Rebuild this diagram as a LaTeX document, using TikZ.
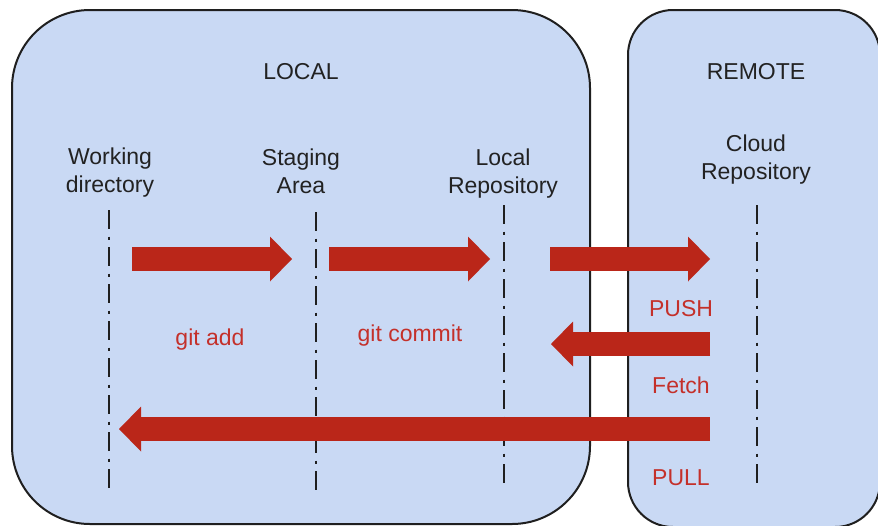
\documentclass[tikz,border=0pt]{standalone}
\usepackage{fontspec}
\setmainfont{Liberation Sans}
\usetikzlibrary{arrows.meta}
\definecolor{panelblue}{HTML}{C9D9F4}
\definecolor{outline}{HTML}{1F1F1F}
\definecolor{flowred}{HTML}{BA2619}
\definecolor{labelred}{HTML}{C4302A}
\definecolor{inktext}{HTML}{222222}

\begin{document}
\begin{tikzpicture}[x=1pt,y=-1pt,
  panel/.style={fill=panelblue, draw=outline, line width=2pt},
  title/.style={font=\fontsize{23}{28}\selectfont, text=inktext, align=center, inner sep=0pt},
  flowlabel/.style={font=\fontsize{23}{28}\selectfont, text=labelred, inner sep=0pt},
  lifeline/.style={draw=outline, line width=2.2pt, dash pattern=on 19pt off 7.5pt on 3pt off 7.5pt},
  flow/.style={draw=flowred, line width=24pt,
    -{Triangle[length=22pt,width=45pt,line width=0pt]}}]
\useasboundingbox (0,0) rectangle (878,525);

% the two areas
\draw[panel, rounded corners=78pt] (12,10) rectangle (590,524);
\draw[panel, rounded corners=45pt] (628,10) rectangle (880,527);

% headings
\node[title] (local)  at (301,72) {LOCAL};
\node[title] (remote) at (756,72) {REMOTE};
\node[title] (wd)    at (110,173) {Working\\directory};
\node[title] (stage) at (301,171) {Staging\\Area};
\node[title] (lrepo) at (503,174) {Local\\Repository};
\node[title] (crepo) at (756,160) {Cloud\\Repository};

% lifelines
\coordinate (wdtop) at (109,210); \coordinate (wdbot) at (109,488);
\coordinate (sttop) at (316,212); \coordinate (stbot) at (316,490);
\coordinate (lrtop) at (504,205); \coordinate (lrbot) at (504,483);
\coordinate (crtop) at (757,205); \coordinate (crbot) at (757,483);
\draw[lifeline] (wdtop) -- (wdbot);
\draw[lifeline] (sttop) -- (stbot);
\draw[lifeline] (lrtop) -- (lrbot);
\draw[lifeline] (crtop) -- (crbot);

% transfers
\coordinate (adds) at (132,259);  \coordinate (adde) at (292,259);
\coordinate (coms) at (329,259);  \coordinate (come) at (490,259);
\coordinate (pushs) at (550,259); \coordinate (pushe) at (710,259);
\coordinate (fets) at (710,344);  \coordinate (fete) at (551,344);
\coordinate (pulls) at (710,429); \coordinate (pulle) at (119,429);
\draw[flow] (adds) -- (adde);
\draw[flow] (coms) -- (come);
\draw[flow] (pushs) -- (pushe);
\draw[flow] (fets) -- (fete);
\draw[flow] (pulls) -- (pulle);

% command labels
\node[flowlabel] (ladd)   at (210,340) {git add};
\node[flowlabel] (lcom)   at (410,336) {git commit};
\node[flowlabel] (lpush)  at (681,309) {PUSH};
\node[flowlabel] (lfetch) at (681,385) {Fetch};
\node[flowlabel] (lpull)  at (681,478) {PULL};
\end{tikzpicture}
\end{document}
